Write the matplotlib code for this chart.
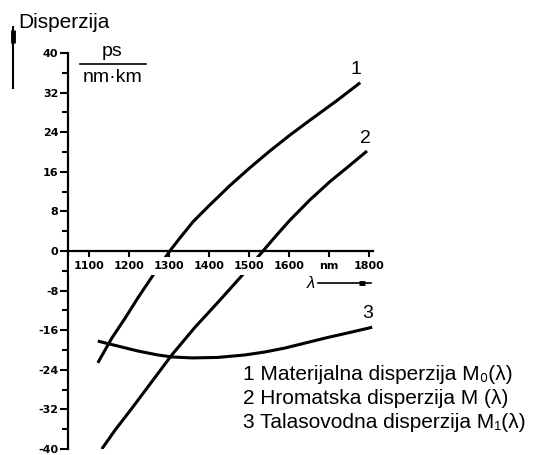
import matplotlib
matplotlib.use("Agg")
import matplotlib.pyplot as plt
from matplotlib.lines import Line2D

plt.rcParams['axes.unicode_minus'] = False
plt.rcParams['font.family'] = ['Liberation Sans', 'DejaVu Sans']

# curve 1 - material dispersion
mat_lambda = [1122, 1157, 1190, 1222, 1260, 1302, 1327, 1360, 1402, 1452,
              1502, 1552, 1602, 1652, 1720, 1778]
mat_disp = [-22.6, -17.6, -13.6, -9.5, -4.9, 0.0, 2.6, 5.9, 9.3, 13.2,
            16.8, 20.2, 23.4, 26.4, 30.4, 34.0]

# curve 2 - chromatic dispersion
chr_lambda = [1132, 1165, 1207, 1257, 1307, 1365, 1422, 1482, 1535, 1570,
              1602, 1652, 1702, 1752, 1795]
chr_disp = [-40, -36.2, -31.8, -26.4, -21, -15.4, -10.4, -5.0, 0.0, 3.3,
            6.2, 10.3, 14.0, 17.3, 20.2]

# curve 3 - waveguide dispersion
wg_lambda = [1122, 1172, 1222, 1272, 1307, 1357, 1422, 1490, 1540, 1590,
             1640, 1695, 1750, 1808]
wg_disp = [-18.2, -19.2, -20.2, -21, -21.4, -21.6, -21.5, -21.0, -20.4, -19.6,
           -18.6, -17.5, -16.5, -15.4]

x_ticks = [1100, 1200, 1300, 1400, 1500, 1600, 1700, 1800]
x_labels = ['1100', '1200', '1300', '1400', '1500', '1600', 'nm', '1800']
y_ticks = [-40, -32, -24, -16, -8, 0, 8, 16, 24, 32, 40]
y_minor = [-36, -28, -20, -12, -4, 4, 12, 20, 28, 36]

legend_lines = ['1 Materijalna disperzija M₀(λ)',
                '2 Hromatska disperzija M (λ)',
                '3 Talasovodna disperzija M₁(λ)']

W, H = 539, 455
fig = plt.figure(figsize=(W / 100, H / 100), dpi=100)
ax = fig.add_axes([68 / W, 6 / H, (373 - 68) / W, (449 - 53) / H])
ax.set_xlim(1047.5, 1810)
ax.set_ylim(-40, 40)

for xs, ys in [(mat_lambda, mat_disp), (chr_lambda, chr_disp), (wg_lambda, wg_disp)]:
    ax.plot(xs, ys, color='black', lw=2.2, solid_capstyle='butt', zorder=2)

# axes like the drawing: y axis at left, x axis through zero
for s in ['top', 'right']:
    ax.spines[s].set_visible(False)
ax.spines['bottom'].set_position(('data', 0))
ax.spines['bottom'].set_linewidth(1.6)
ax.spines['left'].set_linewidth(1.6)

tick_font = dict(family=['Liberation Sans Narrow', 'DejaVu Sans Condensed', 'DejaVu Sans'],
                 weight='bold', size=8)
ax.set_xticks(x_ticks, x_labels, **tick_font)
ax.set_yticks(y_ticks, [str(v) for v in y_ticks], **tick_font)
ax.set_yticks(y_minor, minor=True)
ax.tick_params(axis='x', direction='out', length=5, width=1.5, pad=2)
ax.tick_params(axis='y', which='major', direction='out', length=6, width=1.5, pad=1)
ax.tick_params(axis='y', which='minor', direction='out', length=4, width=1.5)
for lab in ax.get_xticklabels():
    lab.set_bbox(dict(facecolor='white', edgecolor='none', pad=3))
ax.xaxis.set_zorder(3)

# curve numbers
ax.text(1767, 36.6, '1', fontsize=14, ha='center', va='center')
ax.text(1790, 22.8, '2', fontsize=14, ha='center', va='center')
ax.text(1797, -12.6, '3', fontsize=14, ha='center', va='center')

# lambda arrow
ax.text(1655, -6.5, 'λ', fontsize=12, ha='center', va='center', style='italic')
ax.plot([1672, 1805], [-6.5, -6.5], color='black', lw=1.2, clip_on=False)
ax.plot([1775, 1790], [-6.5, -6.5], color='black', lw=3.5, solid_capstyle='butt', clip_on=False)

# unit fraction
fig.text(112 / W, 1 - 52 / H, 'ps', fontsize=14, ha='center', va='center')
fig.add_artist(Line2D([80 / W, 146 / W], [1 - 64 / H, 1 - 64 / H], color='black', lw=1.2))
fig.text(113 / W, 1 - 77 / H, 'nm·km', fontsize=14, ha='center', va='center')

# y axis title with arrow
fig.text(18 / W, 1 - 22 / H, 'Disperzija', fontsize=15, ha='left', va='center')
fig.add_artist(Line2D([13 / W, 13 / W], [1 - 88 / H, 1 - 27 / H], color='black', lw=1.5))
fig.add_artist(Line2D([13 / W, 13 / W], [1 - 43 / H, 1 - 30 / H], color='black', lw=3.5,
                      solid_capstyle='butt'))

# legend text
for i, line in enumerate(legend_lines):
    fig.text(243 / W, 1 - (375 + 24 * i) / H, line, fontsize=15, ha='left', va='center')

fig.savefig('out.png', dpi=100)
